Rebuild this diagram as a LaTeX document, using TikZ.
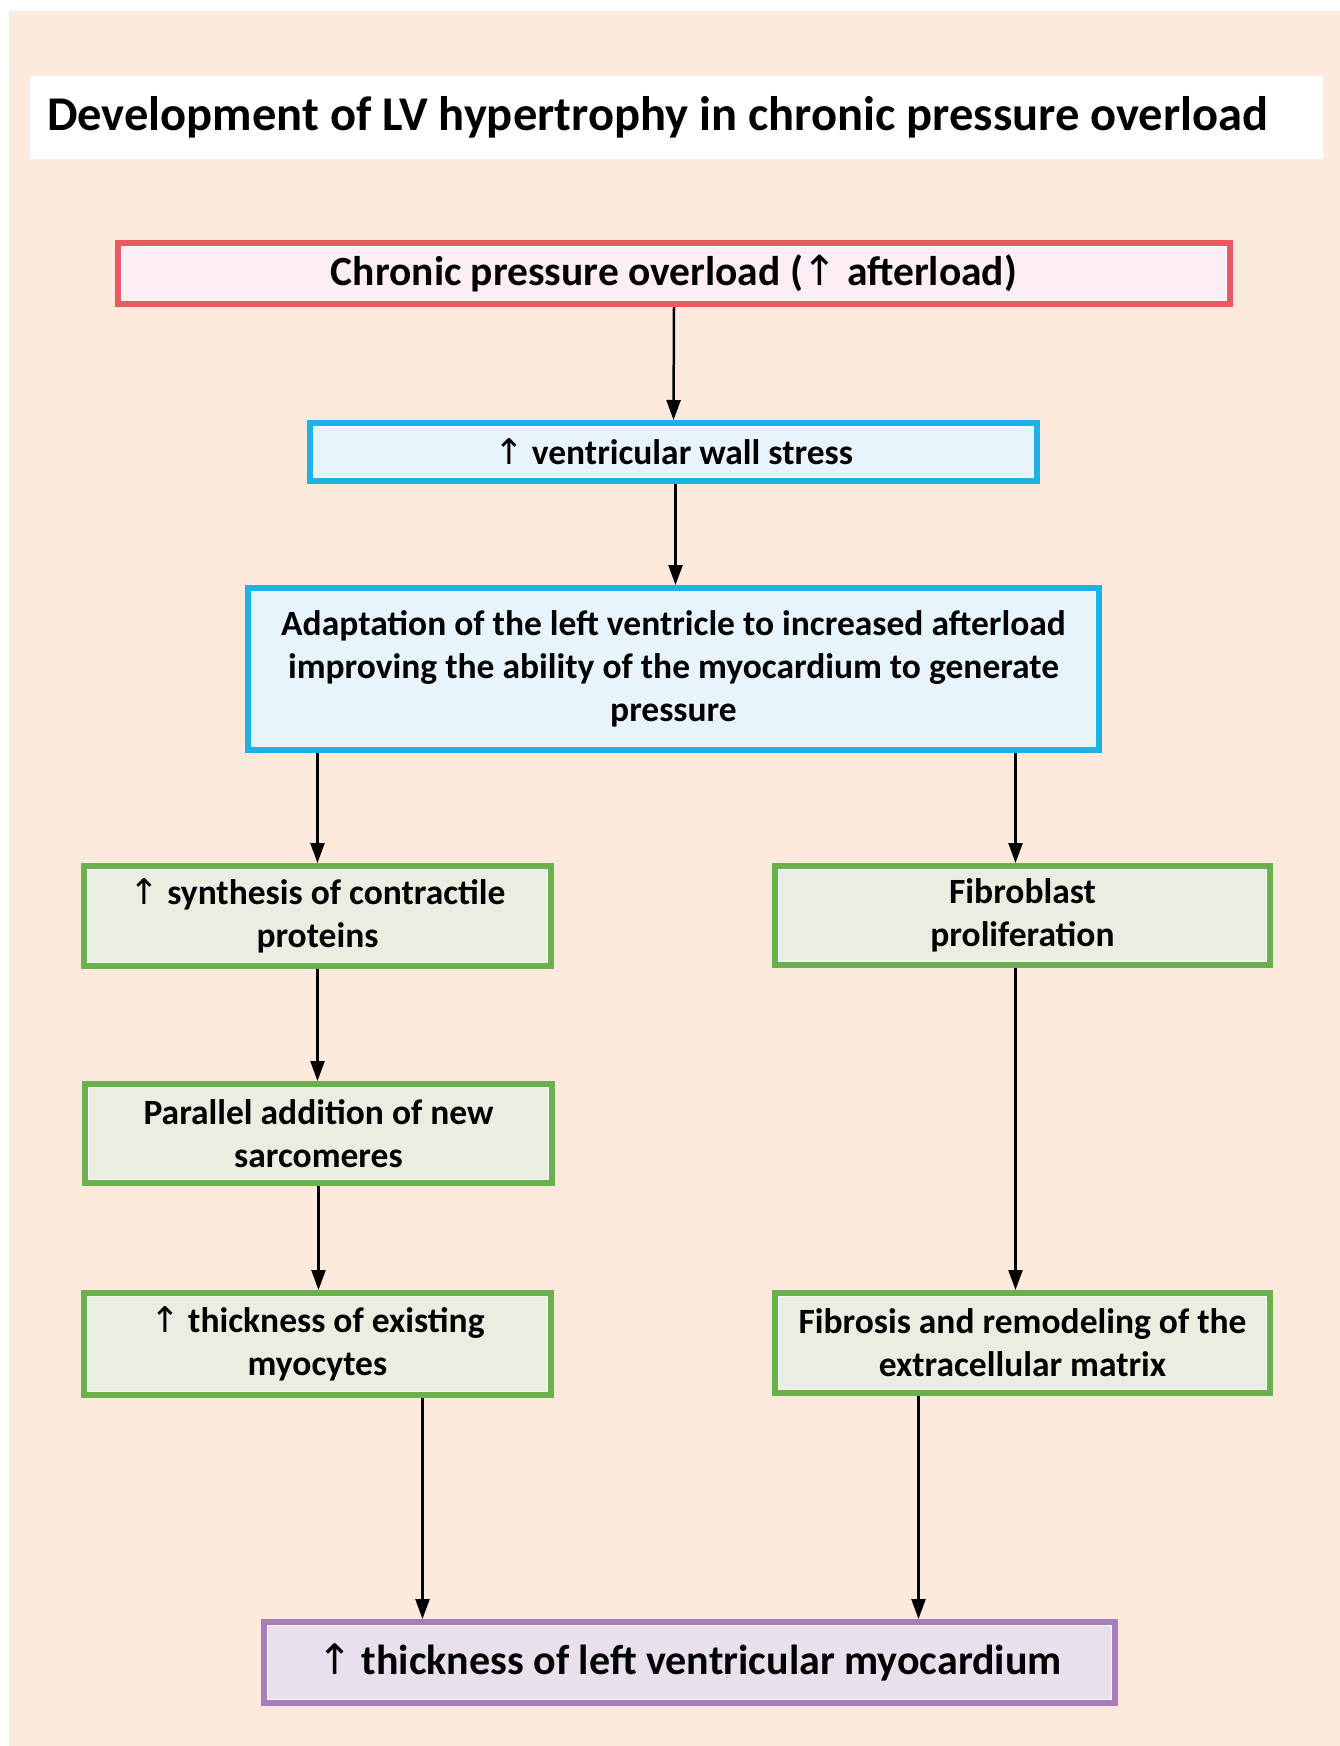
\documentclass[tikz,border=0pt]{standalone}
\usepackage{fontspec}
\setmainfont{Carlito}
\newfontfamily\arrowfont{DejaVu Sans}
\usetikzlibrary{arrows.meta,calc}
\newcommand{\uparr}{{\arrowfont\mdseries ↑}}
\definecolor{bgpeach}{HTML}{FDEADC}
\definecolor{redb}{HTML}{E85A5F}
\definecolor{redf}{HTML}{FCEEF4}
\definecolor{blueb}{HTML}{1DB2E6}
\definecolor{bluef}{HTML}{E7F4FB}
\definecolor{greenb}{HTML}{6AB04C}
\definecolor{greenf}{HTML}{E8EFE0}
\definecolor{purpb}{HTML}{A67CB9}
\definecolor{purpf}{HTML}{E9E0EE}
\tikzset{
  box/.style={rectangle, line width=6pt, align=center, inner sep=0pt, font=\bfseries\fontsize{35.5}{43}\selectfont},
  redbox/.style={box, draw=redb, fill=redf, font=\bfseries\fontsize{41.5}{48}\selectfont},
  bluebox/.style={box, draw=blueb, fill=bluef},
  greenbox/.style={box, draw=greenb, fill=greenf},
  purpbox/.style={box, draw=purpb, fill=purpf, font=\bfseries\fontsize{42}{48}\selectfont},
  arr/.style={line width=2.5pt, -{Triangle[length=20pt,width=14pt]}},
  inner/.style={draw=white, line width=1.1pt, opacity=0.8}
}
\begin{document}
\begin{tikzpicture}[x=1pt,y=1pt]
\useasboundingbox (0,0) rectangle (1340,-1746);
\fill[white] (0,0) rectangle (1340,-1746);
\fill[bgpeach] (9,-11) rectangle (1340,-1746);
% title
\node[fill=white, minimum width=1293pt, minimum height=83pt, inner sep=0pt] (tbox) at (676.5,-117.5) {};
\node[anchor=west, inner sep=0pt, font=\bfseries\fontsize{48.5}{56}\selectfont] (title) at (47,-117) {Development of LV hypertrophy in chronic pressure overload};
% boxes
\node[redbox, minimum width=1112pt, minimum height=61pt] (cpo) at (674,-273.5) {Chronic pressure overload (\uparr\ afterload)};
\node[bluebox, minimum width=727pt, minimum height=58pt] (wall) at (673.5,-452) {\uparr\ ventricular wall stress};
\node[bluebox, minimum width=851pt, minimum height=162pt] (adapt) at (673.5,-669) {Adaptation of the left ventricle to increased afterload\\improving the ability of the myocardium to generate\\pressure};
\node[greenbox, minimum width=467pt, minimum height=100pt] (syn) at (317.5,-916) {\uparr\ synthesis of contractile\\proteins};
\node[greenbox, minimum width=495pt, minimum height=99pt] (fib) at (1022.5,-915.5) {Fibroblast\\proliferation};
\node[greenbox, minimum width=467pt, minimum height=99pt] (par) at (318.5,-1133.5) {Parallel addition of new\\sarcomeres};
\node[greenbox, minimum width=467pt, minimum height=102pt] (thick) at (317.5,-1344) {\uparr\ thickness of existing\\myocytes};
\node[greenbox, minimum width=495pt, minimum height=100pt] (remod) at (1022.5,-1343) {Fibrosis and remodeling of the\\extracellular matrix};
\node[purpbox, minimum width=851pt, minimum height=81pt] (lv) at (689.5,-1662.5) {\uparr\ thickness of left ventricular myocardium};
% inner light lines (anchors sit on the outer edge of the 6pt border)
\foreach \n in {cpo,wall,adapt,syn,fib,par,thick,remod,lv}{
  \draw[inner] ([shift={(6.6pt,-6.6pt)}]\n.north west) rectangle ([shift={(-6.6pt,6.6pt)}]\n.south east);
}
% arrows
\draw[arr] (cpo.south) -- (wall.north);
\draw[arr] ([xshift=2pt]wall.south) -- ([xshift=2pt]adapt.north);
\draw[arr] (adapt.south -| syn.north) -- (syn.north);
\draw[arr] ([xshift=-7pt]fib.north |- adapt.south) -- ([xshift=-7pt]fib.north);
\draw[arr] (syn.south) -- (syn.south |- par.north);
\draw[arr] (par.south) -- (par.south |- thick.north);
\draw[arr] ([xshift=-7pt]fib.south) -- ([xshift=-7pt]remod.north);
\draw[arr] ([xshift=105pt]thick.south) -- ([xshift=105pt]thick.south |- lv.north);
\draw[arr] ([xshift=-104pt]remod.south) -- ([xshift=-104pt]remod.south |- lv.north);
\end{tikzpicture}
\end{document}
